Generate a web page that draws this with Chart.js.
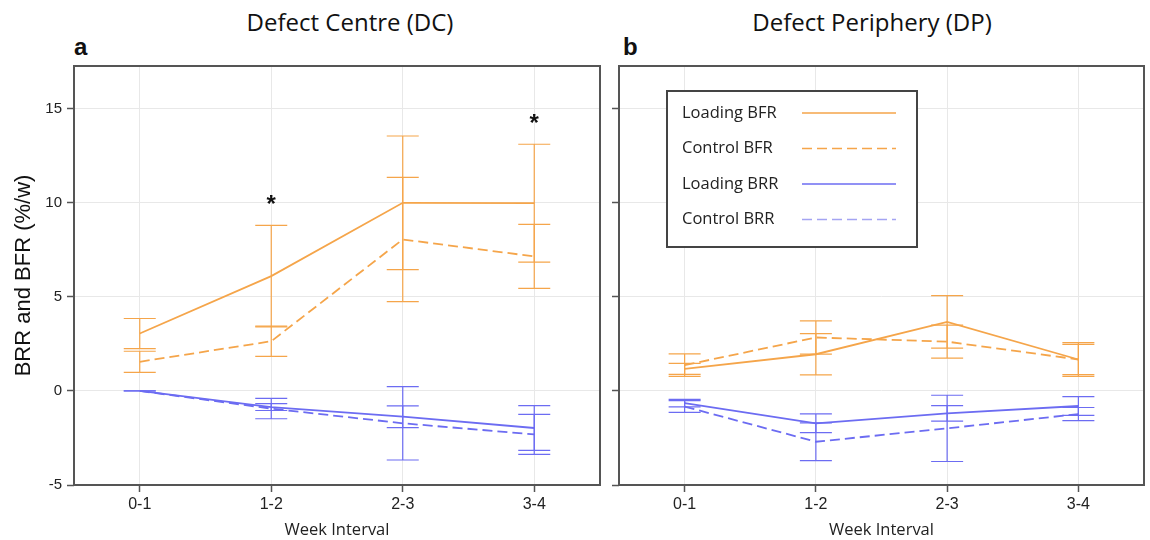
<!DOCTYPE html>
<html>
<head>
<meta charset="utf-8">
<script src="https://cdn.jsdelivr.net/npm/chart.js@4.4.1/dist/chart.umd.min.js"></script>
<style>
  html, body { margin: 0; padding: 0; background: #fff; }
  #wrap { position: relative; width: 1150px; height: 540px; overflow: hidden; }
  canvas { position: absolute; top: 0; }
  #dc { left: 0; }
  #dp { left: 605px; }
  .title { position: absolute; top: 11px; font-family: "Open Sans"; font-size: 24px; line-height: 22px; color: #111; transform: translateX(-50%); white-space: nowrap; }
  .letter { position: absolute; top: 35px; font-family: "Liberation Sans"; font-weight: bold; font-size: 24px; line-height: 24px; color: #111; }
</style>
</head>
<body>
<div id="wrap">
  <div class="title" style="left:350px">Defect Centre (DC)</div>
  <div class="title" style="left:872px">Defect Periphery (DP)</div>
  <div class="letter" style="left:74px">a</div>
  <div class="letter" style="left:623px">b</div>
  <canvas id="dc" width="608" height="540"></canvas>
  <canvas id="dp" width="545" height="540"></canvas>
</div>
<script>
const CATEGORIES = ['0-1', '1-2', '2-3', '3-4'];
const Y_TICKS = [-5, 0, 5, 10, 15];

// Defect Centre (DC): means and error half-widths
const dcLoadingBFR = [3.05, 6.1, 10.0, 9.98];
const dcLoadingBFRErr = [0.8, 2.7, 3.55, 3.13];
const dcControlBFR = [1.55, 2.64, 8.05, 7.15];
const dcControlBFRErr = [0.56, 0.8, 3.3, 1.7];
const dcLoadingBRR = [0, -0.86, -1.37, -1.97];
const dcLoadingBRRErr = [0, 0.18, 0.58, 1.19];
const dcControlBRR = [0, -0.94, -1.72, -2.31];
const dcControlBRRErr = [0, 0.54, 1.95, 1.06];
const dcStars = [null, 10.1, null, 14.4];

// Defect Periphery (DP)
const dpLoadingBFR = [1.17, 1.95, 3.67, 1.67];
const dpLoadingBFRErr = [0.29, 1.1, 1.4, 0.9];
const dpControlBFR = [1.37, 2.84, 2.62, 1.67];
const dpControlBFRErr = [0.6, 0.88, 0.88, 0.8];
const dpLoadingBRR = [-0.65, -1.72, -1.19, -0.8];
const dpLoadingBRRErr = [0.2, 0.5, 0.41, 0.5];
const dpControlBRR = [-0.83, -2.7, -1.99, -1.23];
const dpControlBRRErr = [0.31, 1.0, 1.76, 0.35];

const ORANGE = '#f5a54a';
const BLUE = '#6c6cf2';
const FRAME = '#555';

Chart.defaults.font.family = '"Liberation Sans", Arial, sans-serif';
Chart.defaults.color = '#222';

function makeDatasets(lBFR, lBFRe, cBFR, cBFRe, lBRR, lBRRe, cBRR, cBRRe) {
  return [
    { label: 'Loading BFR', data: lBFR, errors: lBFRe, borderColor: ORANGE, borderDash: [] },
    { label: 'Control BFR', data: cBFR, errors: cBFRe, borderColor: ORANGE, borderDash: [10, 5] },
    { label: 'Loading BRR', data: lBRR, errors: lBRRe, borderColor: BLUE, borderDash: [] },
    { label: 'Control BRR', data: cBRR, errors: cBRRe, borderColor: BLUE, borderDash: [10, 5], legendColor: '#a4a4f2' },
  ].map(d => Object.assign({ borderWidth: 1.8, pointRadius: 0, tension: 0, fill: false }, d));
}

// vertical error bars with caps, drawn through the chart scales
const errorBars = {
  id: 'errorBars',
  afterDatasetsDraw(chart) {
    const { ctx, scales: { x, y } } = chart;
    ctx.save();
    ctx.lineWidth = 1.2;
    chart.data.datasets.forEach(ds => {
      ctx.strokeStyle = ds.borderColor;
      ds.data.forEach((v, i) => {
        const e = ds.errors[i];
        const px = x.getPixelForValue(i);
        const top = y.getPixelForValue(v + e);
        const bot = y.getPixelForValue(v - e);
        ctx.beginPath();
        ctx.moveTo(px, top); ctx.lineTo(px, bot);
        ctx.moveTo(px - 16, top); ctx.lineTo(px + 16, top);
        ctx.moveTo(px - 16, bot); ctx.lineTo(px + 16, bot);
        ctx.stroke();
      });
    });
    ctx.restore();
  }
};

const starMarks = {
  id: 'starMarks',
  afterDatasetsDraw(chart, args, opts) {
    if (!opts.values) return;
    const { ctx, scales: { x, y } } = chart;
    ctx.save();
    ctx.fillStyle = '#111';
    ctx.font = 'bold 24px "Liberation Sans"';
    ctx.textAlign = 'center';
    ctx.textBaseline = 'alphabetic';
    opts.values.forEach((v, i) => {
      if (v == null) return;
      ctx.fillText('*', x.getPixelForValue(i), y.getPixelForValue(v) + 11);
    });
    ctx.restore();
  }
};

const boxLegend = {
  id: 'boxLegend',
  afterDraw(chart, args, opts) {
    if (!opts.display) return;
    const { ctx } = chart;
    ctx.save();
    ctx.fillStyle = '#fff';
    ctx.fillRect(opts.left, opts.top, opts.width, opts.height);
    ctx.strokeStyle = '#444';
    ctx.lineWidth = 2;
    ctx.strokeRect(opts.left, opts.top, opts.width, opts.height);
    ctx.font = '16.5px "Open Sans"';
    ctx.textBaseline = 'middle';
    ctx.textAlign = 'left';
    chart.data.datasets.forEach((ds, i) => {
      const cy = opts.top + opts.firstRow + i * opts.rowGap;
      ctx.fillStyle = '#222';
      ctx.fillText(ds.label, opts.left + 15, cy);
      ctx.strokeStyle = ds.legendColor || ds.borderColor;
      ctx.lineWidth = 1.6;
      ctx.setLineDash(ds.borderDash);
      ctx.beginPath();
      ctx.moveTo(opts.left + 135, cy);
      ctx.lineTo(opts.left + 229, cy);
      ctx.stroke();
      ctx.setLineDash([]);
    });
    ctx.restore();
  }
};

const frameBox = {
  id: 'frameBox',
  afterDraw(chart) {
    const { ctx, chartArea: a } = chart;
    ctx.save();
    ctx.strokeStyle = FRAME;
    ctx.lineWidth = 2;
    ctx.strokeRect(a.left, a.top, a.right - a.left, a.bottom - a.top);
    ctx.restore();
  }
};

function makeChart(id, datasets, cfg) {
  return new Chart(document.getElementById(id), {
    type: 'line',
    data: { labels: CATEGORIES, datasets },
    options: {
      responsive: false,
      animation: false,
      layout: { padding: { left: 0, top: 66, right: cfg.padRight, bottom: 0 } },
      scales: {
        x: {
          offset: true,
          grid: { color: '#e8e8e8', lineWidth: 1, tickColor: FRAME, tickLength: 7, tickWidth: 1.5 },
          border: { display: false },
          ticks: { padding: 3, font: { size: 16 }, color: '#222' },
          title: { display: true, text: 'Week Interval', font: { family: '"Open Sans"', size: 16.5 }, color: '#222', padding: { top: 0, bottom: 0 } },
          afterFit(scale) { scale.height = 55; }
        },
        y: {
          min: -5,
          max: 17.27,
          afterBuildTicks(scale) { scale.ticks = Y_TICKS.map(v => ({ value: v })); },
          grid: { color: '#e8e8e8', lineWidth: 1, tickColor: FRAME, tickLength: 7, tickWidth: 1.5 },
          border: { display: false },
          ticks: { display: cfg.showY, padding: 5, font: { size: 15 }, color: '#222' },
          title: { display: cfg.showY, text: 'BRR and BFR (%/w)', font: { size: 22 }, color: '#111', padding: { top: 11, bottom: 0 } },
          afterFit(scale) { scale.width = cfg.yWidth; }
        }
      },
      plugins: {
        legend: { display: false },
        tooltip: { enabled: false },
        starMarks: { values: cfg.stars },
        boxLegend: { display: cfg.legend, left: 62, top: 91, width: 250, height: 156, firstRow: 22, rowGap: 35.5 }
      }
    },
    plugins: [errorBars, starMarks, boxLegend, frameBox]
  });
}

makeChart('dc',
  makeDatasets(dcLoadingBFR, dcLoadingBFRErr, dcControlBFR, dcControlBFRErr,
               dcLoadingBRR, dcLoadingBRRErr, dcControlBRR, dcControlBRRErr),
  { padRight: 8, yWidth: 74, showY: true, stars: dcStars, legend: false });

makeChart('dp',
  makeDatasets(dpLoadingBFR, dpLoadingBFRErr, dpControlBFR, dpControlBFRErr,
               dpLoadingBRR, dpLoadingBRRErr, dpControlBRR, dpControlBRRErr),
  { padRight: 6, yWidth: 14, showY: false, stars: null, legend: true });
</script>
</body>
</html>
